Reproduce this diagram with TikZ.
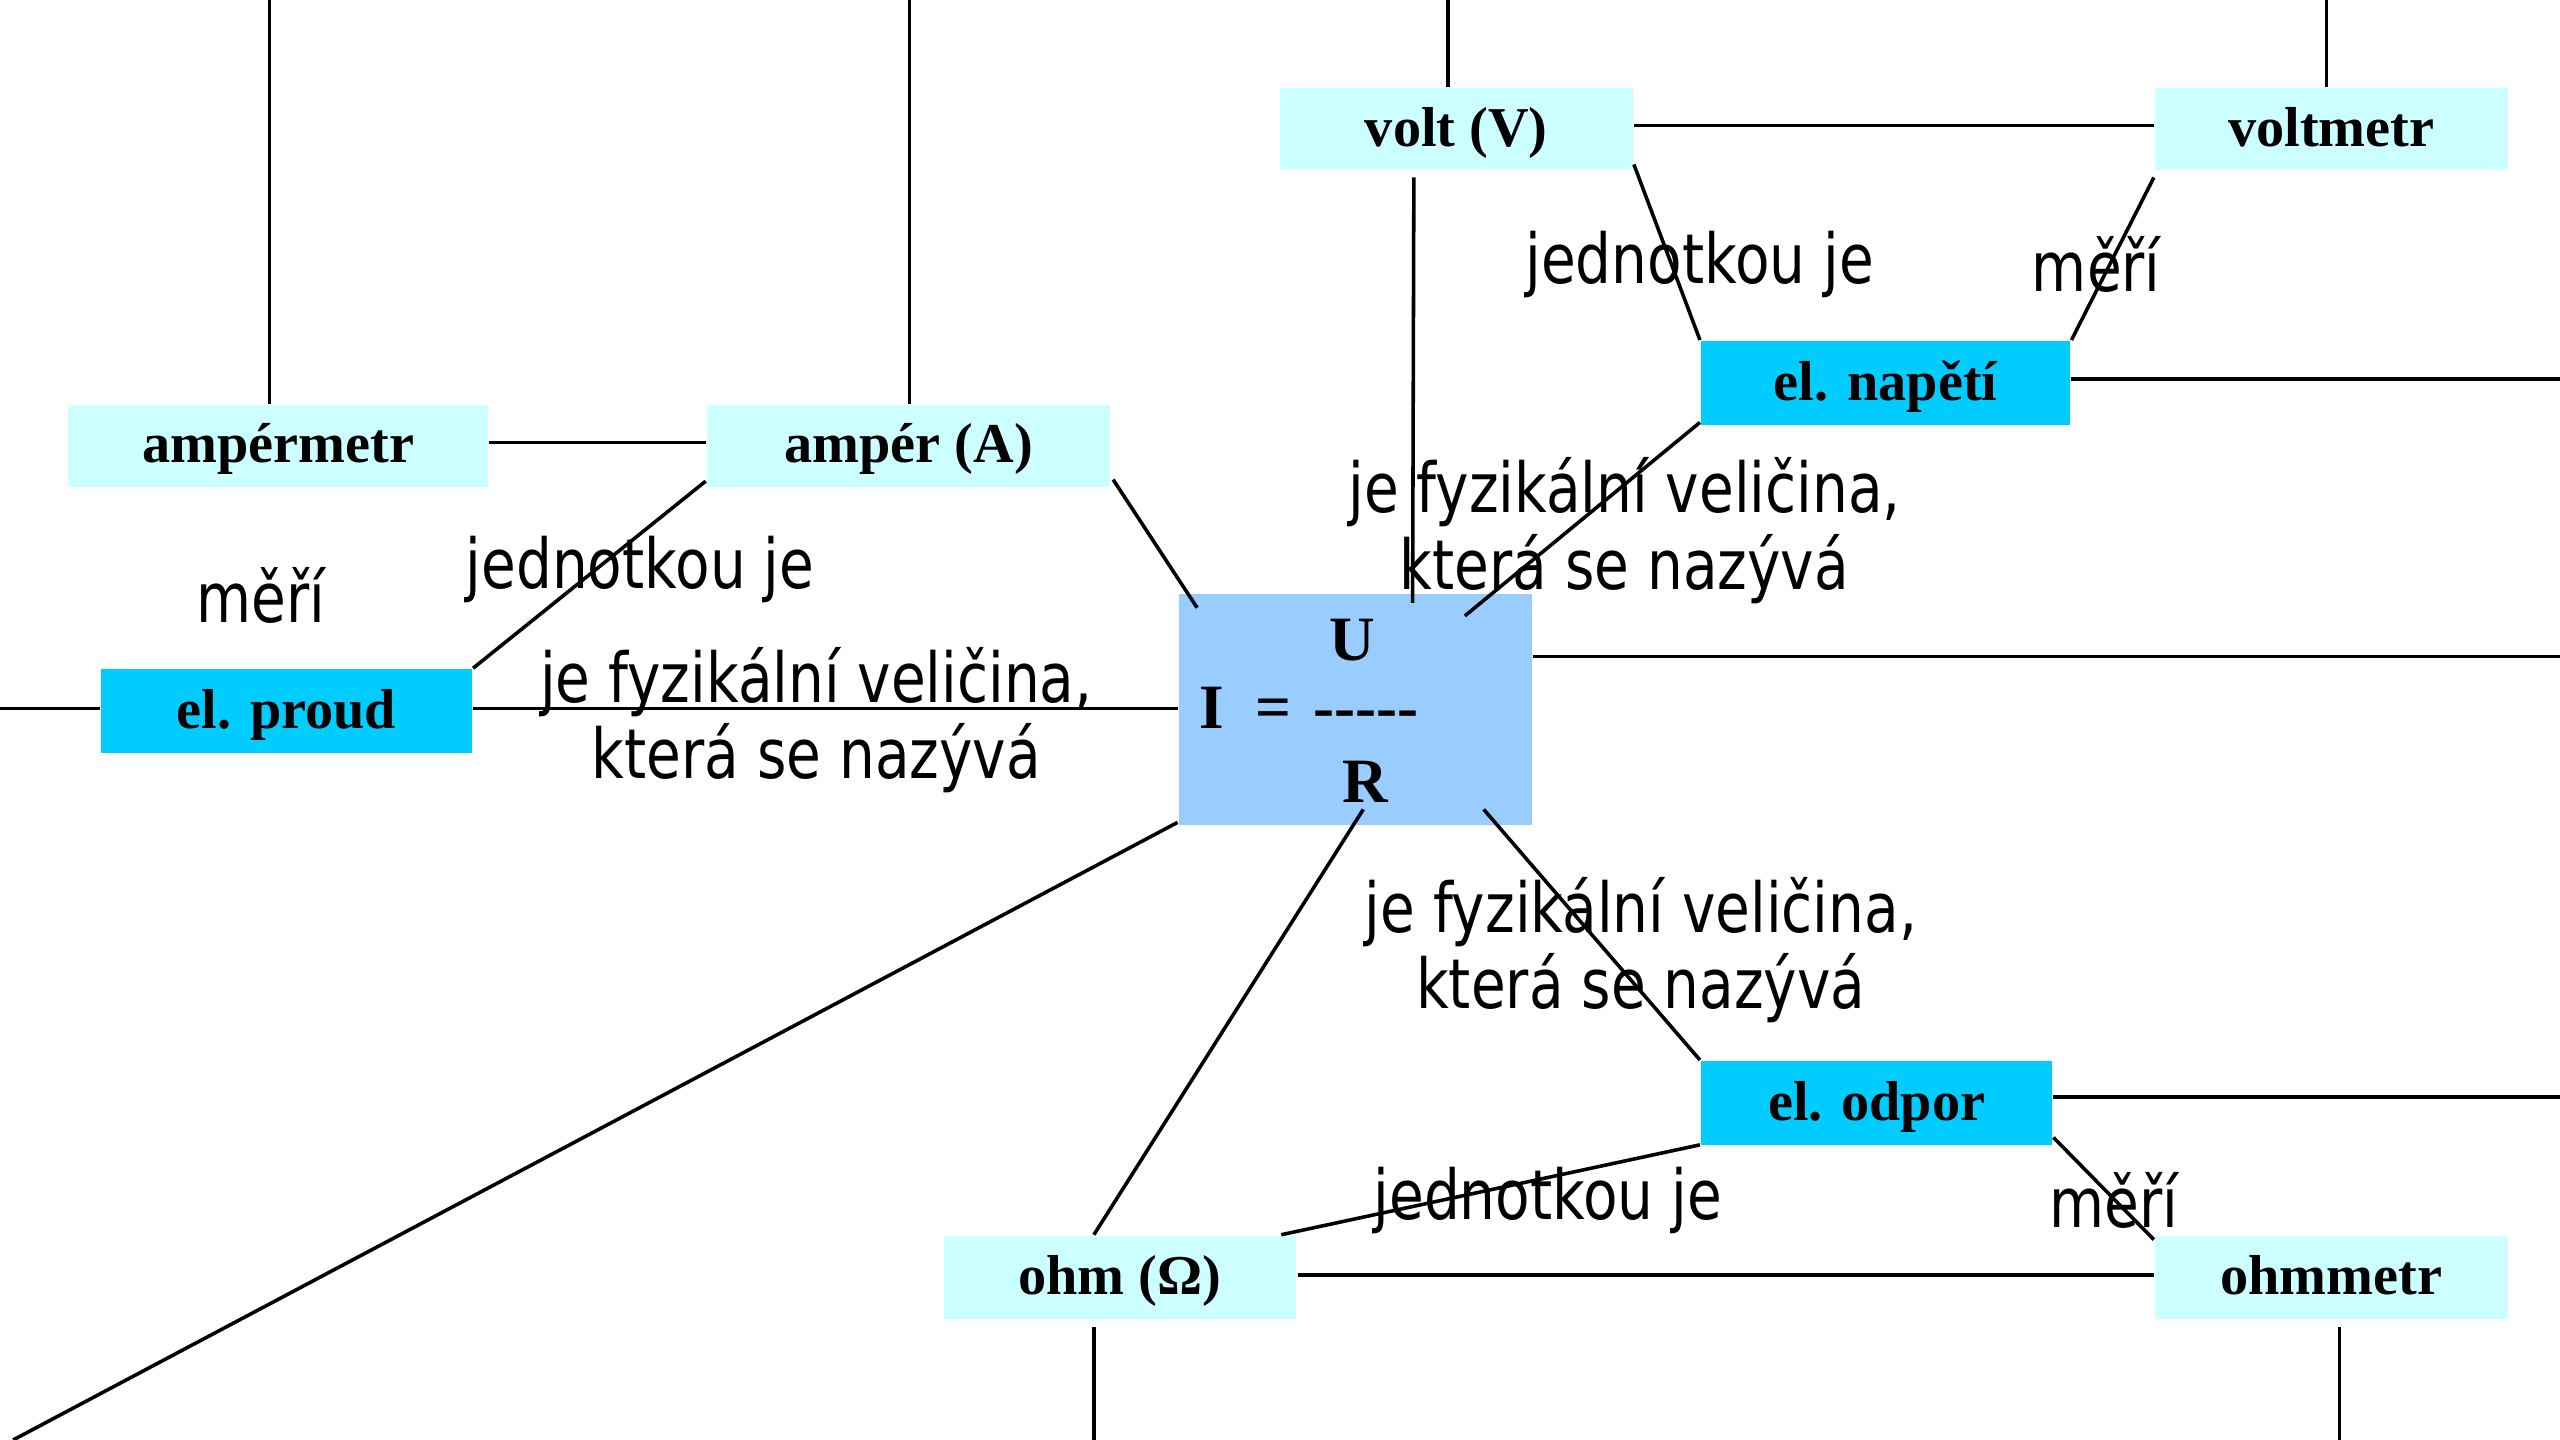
\documentclass[tikz,border=0pt]{standalone}
\usepackage{fontspec}
\usetikzlibrary{calc}
\newfontfamily\lblfont[FakeStretch=0.82]{DejaVu Sans}
\newfontfamily\boxfont{Liberation Serif}
\definecolor{lcyan}{HTML}{CCFFFF}
\definecolor{dcyan}{HTML}{00CCFF}
\definecolor{lblue}{HTML}{99CCFF}
\tikzset{
  boxbase/.style={inner sep=0pt, text height=8pt, text depth=2pt, font=\boxfont\bfseries\fontsize{9.8}{11}\selectfont},
  lbox/.style={boxbase, fill=lcyan},
  dbox/.style={boxbase, fill=dcyan},
  ctrbox/.style={fill=lblue, inner sep=0pt},
  ctrtxt/.style={inner sep=0pt, font=\boxfont\bfseries\fontsize{11}{13}\selectfont},
  lbl/.style={inner sep=0pt, align=center, font=\lblfont\fontsize{12}{13.3}\selectfont},
  conn/.style={line width=0.62pt}
}
\begin{document}
\begin{tikzpicture}[x=0.01cm, y=-0.01cm]
\useasboundingbox (0,0) rectangle (1568,882);
% boxes
\node[lbox, minimum width=2.57cm, minimum height=0.50cm] (amm) at (170.5,273) {ampérmetr};
\node[lbox, minimum width=2.47cm, minimum height=0.50cm] (amp) at (556.5,273) {ampér (A)};
\node[dbox, minimum width=2.27cm, minimum height=0.51cm] (proud) at (175.5,435.5) {el. proud};
\node[ctrbox, minimum width=2.16cm, minimum height=1.41cm] (ctr) at (830,434.5) {};
\node[lbox, minimum width=2.16cm, minimum height=0.50cm] (volt) at (892,79) {volt (V)};
\node[lbox, minimum width=2.16cm, minimum height=0.50cm] (vm) at (1428,79) {voltmetr};
\node[dbox, minimum width=2.26cm, minimum height=0.51cm] (nap) at (1155,234.5) {el. napětí};
\node[dbox, minimum width=2.15cm, minimum height=0.51cm] (odpor) at (1149.5,675.5) {el. odpor};
\node[lbox, minimum width=2.16cm, minimum height=0.51cm] (ohm) at (686,782.5) {ohm (Ω)};
\node[lbox, minimum width=2.16cm, minimum height=0.51cm] (ohmm) at (1428,782.5) {ohmmetr};
% formula
\node[ctrtxt] (fU) at (828,392) {U};
\node[ctrtxt, anchor=base west] (fI) at (734,446) {I\hspace{0.5em}=\hspace{0.35em}-----};
\node[ctrtxt] (fR) at (836,479) {R};
% free ends
\coordinate (tA) at (165,0);
\coordinate (tB) at (557,0);
\coordinate (tC) at (887,0);
\coordinate (tD) at (1425,0);
\coordinate (lE) at (0,434);
\coordinate (rN) at (1568,232);
\coordinate (rC) at (1568,402);
\coordinate (rO) at (1568,672);
\coordinate (bL) at (8,882);
\coordinate (bO) at (670,882);
\coordinate (bM) at (1433,882);
% connectors
\draw[conn] (tA) -- (tA |- amm.north);
\draw[conn] (tB) -- (tB |- amp.north);
\draw[conn] (tC) -- (tC |- volt.north);
\draw[conn] (tD) -- (tD |- vm.north);
\draw[conn] ($(amm.east)+(0,-2)$) -- ($(amp.west)+(0,-2)$);
\draw[conn] ($(amm.south)+(-5,0)$) -- ($(amm.south)+(-5,0)$ |- proud.north);
\draw[conn] ($(amp.south west)+(0,-4)$) -- (proud.north east);
\draw[conn] (lE -| proud.west) -- (lE);
\draw[conn] (lE -| proud.east) -- (lE -| ctr.west);
\draw[conn] ($(amp.south east)+(1,-5)$) -- ($(ctr.north west)+(12,9)$);
\draw[conn] ($(volt.east)+(0,-2)$) -- ($(vm.west)+(0,-2)$);
\draw[conn] ($(volt.south)+(-26,4)$) -- ($(ctr.north west)+(144,6)$);
\draw[conn] ($(volt.south east)+(0,-4)$) -- (nap.north west);
\draw[conn] ($(vm.south west)+(0,4)$) -- (nap.north east);
\draw[conn] (rN -| nap.east) -- (rN);
\draw[conn] ($(nap.south west)+(0,-2)$) -- ($(ctr.north west)+(176,14)$);
\draw[conn] (rC -| ctr.east) -- (rC);
\draw[conn] ($(ctr.south west)+(0,-2)$) -- (bL);
\draw[conn] ($(ctr.south)+(5,-10)$) -- ($(ohm.north)+(-16,0)$);
\draw[conn] ($(ctr.south east)+(-30,-10)$) -- (odpor.north west);
\draw[conn] (rO -| odpor.east) -- (rO);
\draw[conn] ($(odpor.south west)+(0,-0.5)$) -- ($(ohm.north east)+(-10,0)$);
\draw[conn] ($(odpor.south east)+(0,-5)$) -- ($(ohmm.north west)+(0,3)$);
\draw[conn] ($(ohm.east)+(0,-1.5)$) -- ($(ohmm.west)+(0,-1.5)$);
\draw[conn] (bO |- ohm.south) ++(0,4) -- (bO);
\draw[conn] (bM |- ohmm.south) ++(0,4) -- (bM);
% labels
\node[lbl] (l1) at (160,365) {měří};
\node[lbl] (l2) at (392,349) {jednotkou je};
\node[lbl] (l3) at (500,441) {je fyzikální veličina,\\která se nazývá};
\node[lbl] (l4) at (1041,162) {jednotkou je};
\node[lbl] (l5) at (1284,162) {měří};
\node[lbl] (l6) at (995,325) {je fyzikální veličina,\\která se nazývá};
\node[lbl] (l7) at (1005,582) {je fyzikální veličina,\\která se nazývá};
\node[lbl] (l8) at (948,735) {jednotkou je};
\node[lbl] (l9) at (1295,735) {měří};
\end{tikzpicture}
\end{document}
